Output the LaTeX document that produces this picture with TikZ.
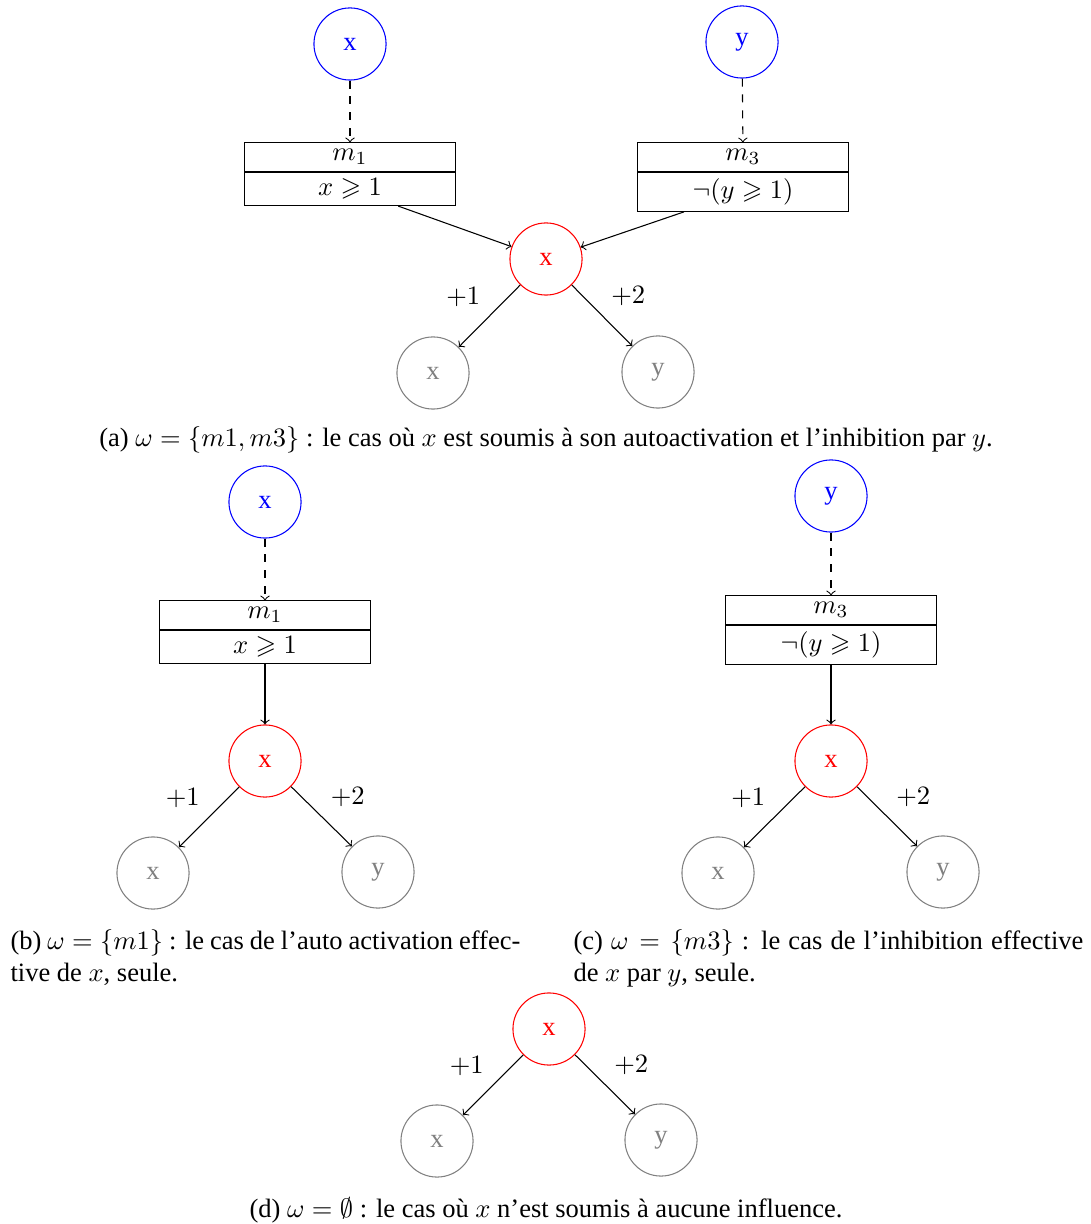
\documentclass[tikz,border=0pt]{standalone}
\usepackage{amssymb}
\usepackage{fontspec}
\setmainfont{Liberation Serif}
\usetikzlibrary{positioning}

\tikzset{
  regul/.style={circle, draw=blue, text=blue, minimum size=27.2pt, inner sep=0pt},
  cible/.style={circle, draw=red, text=red, minimum size=27.2pt, inner sep=0pt},
  succ/.style={circle, draw=gray, text=gray, minimum size=27.2pt, inner sep=0pt},
  nom/.style={draw, minimum width=79.6pt, inner ysep=2.4pt},
  cond/.style={draw, minimum width=79.6pt, inner ysep=2.4pt},
  legende/.style={text width=192.3pt, align=justify, inner sep=0pt, anchor=north west},
}

\begin{document}
\begin{tikzpicture}[x=0.3772pt, y=-0.3772pt]
  \useasboundingbox (0,0) rectangle (1091,1224);
  % (a) m1 et m3
  \node[regul] (ax) at (350,44) {x};
  \node[regul] (ay) at (742,42) {y};
  \node[nom] (am1) at (350,157) {$m_1$};
  \node[cond, below=0pt of am1] (ac1) {$x \geqslant 1$};
  \node[nom] (am3) at (743,157) {$m_3$};
  \node[cond, below=0pt of am3] (ac3) {$\neg(y \geqslant 1)$};
  \node[cible] (acx) at (546,259) {x};
  \node[succ] (agx) at (433,373) {x};
  \node[succ] (agy) at (658,372) {y};
  \draw[->, dashed] (ax) -- (am1);
  \draw[->, dashed] (ay) -- (am3);
  \draw[->] (ac1) -- (acx);
  \draw[->] (ac3) -- (acx);
  \draw[->] (acx) -- node[above left] {$+1$} (agx);
  \draw[->] (acx) -- node[above right] {$+2$} (agy);
  \node (capa) at (546,440) {(a) $\omega=\{m1,m3\}$ : le cas où $x$ est soumis à son autoactivation et l'inhibition par $y$.};

  % (b) m1 seule
  \node[regul] (bx) at (265,502) {x};
  \node[nom] (bm1) at (265,615) {$m_1$};
  \node[cond, below=0pt of bm1] (bc1) {$x \geqslant 1$};
  \node[cible] (bcx) at (265,761) {x};
  \node[succ] (bgx) at (153,873) {x};
  \node[succ] (bgy) at (378,872) {y};
  \draw[->, dashed] (bx) -- (bm1);
  \draw[->] (bc1) -- (bcx);
  \draw[->] (bcx) -- node[above left] {$+1$} (bgx);
  \draw[->] (bcx) -- node[above right] {$+2$} (bgy);
  \node[legende] (capb) at (10,929) {(b) $\omega=\{m1\}$ : le cas de l'auto activation effective de $x$, seule.};

  % (c) m3 seule
  \node[regul] (cy) at (831,496) {y};
  \node[nom] (cm3) at (831,610) {$m_3$};
  \node[cond, below=0pt of cm3] (cc3) {$\neg(y \geqslant 1)$};
  \node[cible] (ccx) at (831,761) {x};
  \node[succ] (cgx) at (718,873) {x};
  \node[succ] (cgy) at (943,872) {y};
  \draw[->, dashed] (cy) -- (cm3);
  \draw[->] (cc3) -- (ccx);
  \draw[->] (ccx) -- node[above left] {$+1$} (cgx);
  \draw[->] (ccx) -- node[above right] {$+2$} (cgy);
  \node[legende] (capc) at (573,929) {(c) $\omega=\{m3\}$ : le cas de l'inhibition effective de $x$ par $y$, seule.};

  % (d) aucune influence
  \node[cible] (dcx) at (549,1029) {x};
  \node[succ] (dgx) at (437,1141) {x};
  \node[succ] (dgy) at (661,1140) {y};
  \draw[->] (dcx) -- node[above left] {$+1$} (dgx);
  \draw[->] (dcx) -- node[above right] {$+2$} (dgy);
  \node (capd) at (546,1210) {(d) $\omega=\emptyset$ : le cas où $x$ n'est soumis à aucune influence.};
\end{tikzpicture}
\end{document}
